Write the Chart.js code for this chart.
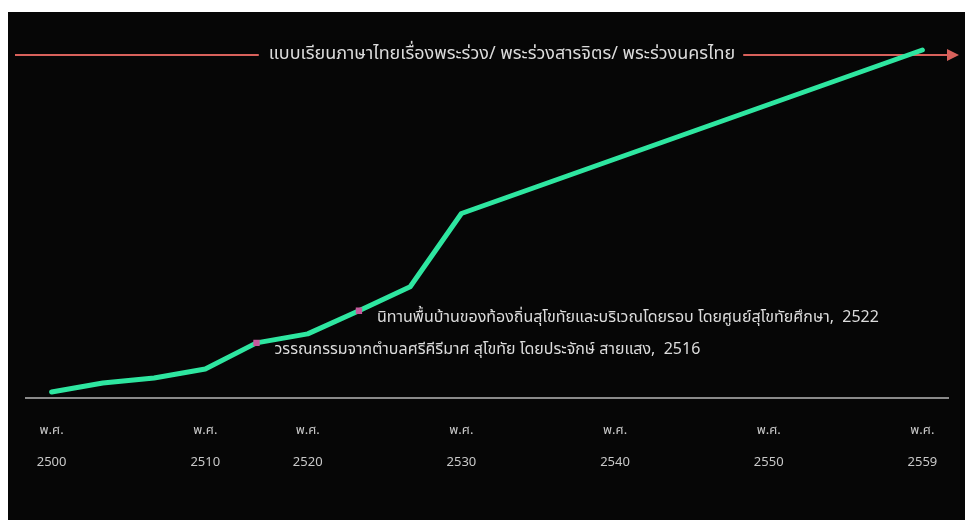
<!DOCTYPE html>
<html>
<head>
<meta charset="utf-8">
<script src="https://cdn.jsdelivr.net/npm/chart.js@4.4.1/dist/chart.umd.min.js"></script>
<style>
  html, body { margin: 0; padding: 0; background: #ffffff; }
  #wrap { width: 965px; height: 520px; }
</style>
</head>
<body>
<div id="wrap"><canvas id="bookChart"></canvas></div>
<script>
// categories along the time line (only some are labelled)
const categories = ['2500', '', '', '2510', '2516', '2520', '2522', '', '2530', '', '', '2540', '', '', '2550', '', '', '2559'];
const shownYears = ['2500', '2510', '2520', '2530', '2540', '2550', '2559'];
// line values (null = no point, line spans across)
const lineValues = [6, 15, 20, 29, 55, 64, 87, 111, 184, null, null, null, null, null, null, null, null, 347];
const markedIdx = [4, 6];
const notes = [
    'วรรณกรรมจากตำบลศรีคีรีมาศ สุโขทัย โดยประจักษ์ สายแสง,  2516',
    'นิทานพื้นบ้านของท้องถิ่นสุโขทัยและบริเวณโดยรอบ โดยศูนย์สุโขทัยศึกษา,  2522'
];
const headline = 'แบบเรียนภาษาไทยเรื่องพระร่วง/ พระร่วงสารจิตร/ พระร่วงนครไทย';

const thaiFont = '"Noto Sans Thai", Tahoma, "DejaVu Sans", sans-serif';

const backdrop = {
    id: 'backdrop',
    beforeDraw(chart) {
        const c = chart.ctx;
        c.save();
        c.fillStyle = '#ffffff';
        c.fillRect(0, 0, chart.width, chart.height);
        c.fillStyle = '#060606';
        c.fillRect(8, 12, chart.width - 8, chart.height - 12);
        c.restore();
    }
};

const headlineArrow = {
    id: 'headlineArrow',
    beforeDatasetsDraw(chart) {
        const c = chart.ctx;
        const y = 55;
        const cx = 502;
        c.save();
        c.font = '18px ' + thaiFont;
        const w = c.measureText(headline).width;
        c.strokeStyle = '#d8615b';
        c.lineWidth = 2;
        c.beginPath();
        c.moveTo(15, y);
        c.lineTo(cx - w / 2 - 10, y);
        c.moveTo(cx + w / 2 + 8, y);
        c.lineTo(950, y);
        c.stroke();
        c.fillStyle = '#d8615b';
        c.beginPath();
        c.moveTo(959, y);
        c.lineTo(947, y - 6);
        c.lineTo(947, y + 6);
        c.closePath();
        c.fill();
        c.fillStyle = '#dcdcdc';
        c.textAlign = 'center';
        c.textBaseline = 'middle';
        c.fillText(headline, cx, y);
        c.restore();
    }
};

const pointNotes = {
    id: 'pointNotes',
    afterDatasetsDraw(chart) {
        const c = chart.ctx;
        const pts = chart.getDatasetMeta(0).data;
        c.save();
        c.font = '16px ' + thaiFont;
        c.fillStyle = '#dcdcdc';
        c.textAlign = 'left';
        c.textBaseline = 'middle';
        markedIdx.forEach(function(idx, i) {
            const p = pts[idx];
            c.fillText(notes[i], p.x + 18, p.y + 8);
        });
        c.restore();
    }
};

document.addEventListener('DOMContentLoaded', function() {
    const ctx = document.getElementById('bookChart');

    new Chart(ctx, {
        type: 'line',
        data: {
            labels: categories,
            datasets: [{
                data: lineValues,
                borderColor: '#2ee6a0',
                borderWidth: 5,
                borderJoinStyle: 'round',
                borderCapStyle: 'round',
                tension: 0,
                spanGaps: true,
                pointStyle: 'rect',
                pointRadius: lineValues.map((v, i) => markedIdx.includes(i) ? 4.5 : 0),
                pointBackgroundColor: '#c45a9c',
                pointBorderWidth: 0
            }]
        },
        options: {
            responsive: true,
            maintainAspectRatio: false,
            animation: false,
            layout: {
                padding: { left: 26, right: 17, top: 47, bottom: 24 }
            },
            plugins: {
                legend: { display: false },
                tooltip: { enabled: false }
            },
            scales: {
                x: {
                    offset: true,
                    grid: { display: false, drawTicks: false },
                    border: { display: true, color: '#8a8a8a', width: 2 },
                    ticks: {
                        autoSkip: false,
                        maxRotation: 0,
                        padding: 17,
                        color: '#c8c8c8',
                        font: { family: thaiFont, size: 13, lineHeight: 2.46 },
                        callback: function(value) {
                            const lab = categories[value];
                            return shownYears.includes(lab) ? ['พ.ศ.', lab] : '';
                        }
                    }
                },
                y: {
                    display: false,
                    min: 0,
                    max: 350
                }
            }
        },
        plugins: [backdrop, headlineArrow, pointNotes]
    });
});
</script>
</body>
</html>
